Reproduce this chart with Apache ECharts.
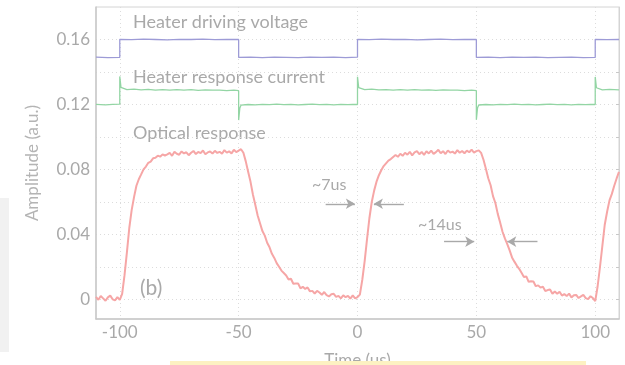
<!DOCTYPE html>
<html>
<head>
<meta charset="utf-8">
<script src="https://cdn.jsdelivr.net/npm/echarts@6/dist/echarts.min.js"></script>
<style>
  html, body { margin: 0; padding: 0; background: #fff; }
  #chart { width: 625px; height: 365px; }
</style>
</head>
<body>
<div id="chart"></div>
<script>
var myChart = echarts.init(document.getElementById('chart'));

// axis ticks
var xTicks = [-100, -50, 0, 50, 100];
var yLabelTicks = [0, 0.04, 0.08, 0.12, 0.16];
var yGridTicks = [0, 0.02, 0.04, 0.06, 0.08, 0.10, 0.12, 0.14, 0.16];

// heater driving voltage  [time us, amplitude]
var voltage = [
  [-110, 0.1491], [-105, 0.1489], [-100, 0.1490], [-100, 0.1601], [-95, 0.1599], [-90, 0.1602],
  [-85, 0.1600], [-80, 0.1598], [-75, 0.1601], [-70, 0.1600], [-65, 0.1602], [-60, 0.1599],
  [-55, 0.1601], [-50, 0.1600], [-50, 0.1490], [-45, 0.1492], [-40, 0.1489], [-35, 0.1491],
  [-30, 0.1490], [-25, 0.1488], [-20, 0.1491], [-15, 0.1490], [-10, 0.1492], [-5, 0.1489],
  [0, 0.1491], [0, 0.1601], [5, 0.1599], [10, 0.1602], [15, 0.1600], [20, 0.1601],
  [25, 0.1598], [30, 0.1600], [35, 0.1602], [40, 0.1599], [45, 0.1601], [50, 0.1600],
  [50, 0.1490], [55, 0.1491], [60, 0.1489], [65, 0.1492], [70, 0.1490], [75, 0.1491],
  [80, 0.1488], [85, 0.1490], [90, 0.1492], [95, 0.1489], [100, 0.1490], [100, 0.1601],
  [105, 0.1599], [110, 0.1600]
];

// heater response current  [time us, amplitude]
var current = [
  [-110, 0.1201], [-106, 0.1198], [-103, 0.1201], [-100, 0.1202], [-100, 0.1373], [-99.5, 0.1305],
  [-99, 0.1296], [-97, 0.1292], [-94, 0.1295], [-91, 0.1290], [-88, 0.1293], [-85, 0.1289],
  [-82, 0.1292], [-79, 0.1288], [-76, 0.1291], [-73, 0.1289], [-70, 0.1291], [-67, 0.1287],
  [-64, 0.1290], [-61, 0.1288], [-58, 0.1289], [-55, 0.1286], [-52, 0.1288], [-50, 0.1285],
  [-50, 0.1104], [-49.5, 0.1178], [-49, 0.1196], [-46, 0.1200], [-43, 0.1198], [-40, 0.1201],
  [-37, 0.1199], [-34, 0.1202], [-31, 0.1199], [-28, 0.1201], [-25, 0.1198], [-22, 0.1200],
  [-19, 0.1202], [-16, 0.1199], [-13, 0.1201], [-10, 0.1198], [-7, 0.1201], [-4, 0.1199],
  [-2, 0.1201], [0, 0.1200], [0, 0.1371], [0.5, 0.1304], [1, 0.1295], [3, 0.1291],
  [6, 0.1294], [9, 0.1290], [12, 0.1292], [15, 0.1289], [18, 0.1292], [21, 0.1288],
  [24, 0.1291], [27, 0.1289], [30, 0.1290], [33, 0.1287], [36, 0.1290], [39, 0.1288],
  [42, 0.1289], [45, 0.1286], [48, 0.1288], [50, 0.1285], [50, 0.1106], [50.5, 0.1180],
  [51, 0.1197], [54, 0.1200], [57, 0.1198], [60, 0.1201], [63, 0.1199], [66, 0.1202],
  [69, 0.1199], [72, 0.1201], [75, 0.1198], [78, 0.1200], [81, 0.1202], [84, 0.1199],
  [87, 0.1201], [90, 0.1198], [93, 0.1201], [96, 0.1199], [98, 0.1201], [100, 0.1200],
  [100, 0.1370], [100.5, 0.1303], [101, 0.1294], [103, 0.1290], [106, 0.1293], [110, 0.1290]
];

// optical response, sampled every 1 us from -110 us to 110 us
var opticalStart = -110;
var optical = [
  // -110 .. -100
  0.0016, -0.0002, 0.0021, 0.0007, -0.0008, 0.0013, 0.0024, 0.0001, -0.0005, 0.0015, -0.0003,
  // -99 .. -81
  0.0035, 0.0150, 0.0290, 0.0440, 0.0550, 0.0630, 0.0700, 0.0740, 0.0770, 0.0801,
  0.0818, 0.0841, 0.0849, 0.0869, 0.0872, 0.0885, 0.0879, 0.0893, 0.0886,
  // -80 .. -48
  0.0893, 0.0902, 0.0884, 0.0909, 0.0897, 0.0891, 0.0911, 0.0899, 0.0906, 0.0888,
  0.0903, 0.0914, 0.0895, 0.0908, 0.0901, 0.0917, 0.0894, 0.0905, 0.0911, 0.0898,
  0.0915, 0.0902, 0.0909, 0.0897, 0.0919, 0.0904, 0.0912, 0.0899, 0.0921, 0.0907,
  0.0916, 0.0925, 0.0903,
  // -47 .. -31
  0.0850, 0.0786, 0.0724, 0.0646, 0.0583, 0.0517, 0.0469, 0.0421, 0.0393, 0.0349,
  0.0321, 0.0281, 0.0256, 0.0224, 0.0201, 0.0178, 0.0163,
  // -30 .. 0
  0.0148, 0.0123, 0.0128, 0.0097, 0.0099, 0.0099, 0.0069, 0.0078, 0.0065, 0.0074,
  0.0050, 0.0053, 0.0037, 0.0053, 0.0043, 0.0029, 0.0046, 0.0027, 0.0019, 0.0032,
  0.0035, 0.0016, 0.0022, 0.0007, 0.0026, 0.0014, 0.0022, 0.0005, 0.0025, 0.0007,
  0.0015,
  // 1 .. 15
  0.0030, 0.0120, 0.0235, 0.0370, 0.0500, 0.0600, 0.0670, 0.0725, 0.0765, 0.0795,
  0.0821, 0.0838, 0.0855, 0.0864, 0.0877,
  // 16 .. 52
  0.0889, 0.0878, 0.0897, 0.0884, 0.0903, 0.0891, 0.0909, 0.0887, 0.0905, 0.0913,
  0.0894, 0.0908, 0.0890, 0.0912, 0.0899, 0.0916, 0.0896, 0.0907, 0.0921, 0.0900,
  0.0913, 0.0895, 0.0917, 0.0904, 0.0910, 0.0898, 0.0919, 0.0903, 0.0914, 0.0900,
  0.0916, 0.0906, 0.0922, 0.0904, 0.0913, 0.0918, 0.0902,
  // 53 .. 69
  0.0860, 0.0805, 0.0746, 0.0703, 0.0636, 0.0594, 0.0527, 0.0474, 0.0417, 0.0376,
  0.0341, 0.0302, 0.0259, 0.0233, 0.0209, 0.0189, 0.0164,
  // 70 .. 100
  0.0139, 0.0142, 0.0109, 0.0112, 0.0111, 0.0082, 0.0087, 0.0073, 0.0079, 0.0052,
  0.0058, 0.0061, 0.0035, 0.0049, 0.0036, 0.0048, 0.0024, 0.0033, 0.0021, 0.0036,
  0.0013, 0.0026, 0.0028, 0.0009, 0.0019, 0.0028, 0.0009, 0.0002, 0.0020, 0.0009,
  -0.0010,
  // 101 .. 110
  0.0080, 0.0200, 0.0330, 0.0460, 0.0540, 0.0610, 0.0650, 0.0700, 0.0745, 0.0785
];

// rise / fall time arrows  [[from], [to]] in data units
var arrows = [
  [[-13.4, 0.0589], [-1.1, 0.0589]],
  [[19.5, 0.0589], [6.9, 0.0589]],
  [[36.4, 0.0356], [49.1, 0.0356]],
  [[75.7, 0.0356], [63.0, 0.0356]]
];

var opticalData = optical.map(function (v, i) { return [opticalStart + i, v]; });

var txtColor = '#a9a9a9';
var fontName = 'Lato';

var option = {
    backgroundColor: '#fff',
    textStyle: { fontFamily: fontName },
    animation: false,
    grid: {
        left: 96, right: 6, top: 7, bottom: 46,
        outerBoundsMode: 'none',
        show: true, borderColor: '#d4d4d4', borderWidth: 1
    },
    xAxis: {
        type: 'value',
        min: -110, max: 110,
        name: 'Time (us)',
        nameLocation: 'middle',
        nameGap: 33,
        nameTextStyle: { color: txtColor, fontSize: 17 },
        axisLine: { show: true, onZero: false, lineStyle: { color: '#c8c8c8', width: 1.5 } },
        axisTick: { show: false, customValues: xTicks },
        axisLabel: { customValues: xTicks, color: txtColor, fontSize: 17, margin: 5 },
        splitLine: { show: true, lineStyle: { color: '#dcdcdc', type: [1, 3] } }
    },
    yAxis: [{
        type: 'value',
        min: -0.012, max: 0.18,
        name: 'Amplitude (a.u.)',
        nameLocation: 'middle',
        nameGap: 55,
        nameTextStyle: { color: '#b4b4b4', fontSize: 17 },
        axisLine: { show: true, onZero: false, lineStyle: { color: '#c8c8c8', width: 1.5 } },
        axisTick: { show: false, customValues: yGridTicks },
        axisLabel: {
            customValues: yLabelTicks, color: txtColor, fontSize: 17, margin: 6,
            formatter: function (v) { return v === 0 ? '0' : v.toFixed(2); }
        },
        splitLine: { show: true, lineStyle: { color: '#dcdcdc', type: [1, 3] } }
    }, {
        type: 'value',
        position: 'right',
        min: -0.012, max: 0.18,
        axisLine: { show: true, onZero: false, lineStyle: { color: '#d4d4d4' } },
        axisTick: { show: true, inside: true, length: 3, customValues: yGridTicks, lineStyle: { color: '#c8c8c8' } },
        axisLabel: { show: false },
        splitLine: { show: false }
    }],
    series: [
        {
            name: 'Heater driving voltage',
            type: 'line',
            data: voltage,
            showSymbol: false,
            lineStyle: { color: '#9d9bd6', width: 1.3 }
        },
        {
            name: 'Heater response current',
            type: 'line',
            data: current,
            showSymbol: false,
            lineStyle: { color: '#93d5a4', width: 1.3 }
        },
        {
            name: 'Optical response',
            type: 'line',
            data: opticalData,
            showSymbol: false,
            lineStyle: { color: '#f6a6a6', width: 2 },
            markLine: {
                silent: true,
                symbol: ['none', 'arrow'],
                symbolSize: [8, 9],
                label: { show: false },
                lineStyle: { color: '#a9a9a9', type: 'solid', width: 1.4 },
                data: arrows.map(function (a) {
                    return [{ coord: a[0] }, { coord: a[1] }];
                })
            }
        }
    ],
    graphic: [
        { type: 'rect', shape: { x: 0, y: 198, width: 9, height: 154 }, style: { fill: '#f1f1f1' }, silent: true },
        { type: 'rect', shape: { x: 170, y: 361, width: 416, height: 4 }, style: { fill: '#fdf1c2' }, z: 100, silent: true },
        { type: 'text', x: 133, y: 22, style: { text: 'Heater driving voltage', fill: txtColor, fontSize: 18, fontFamily: fontName, verticalAlign: 'middle' }, silent: true },
        { type: 'text', x: 133, y: 77, style: { text: 'Heater response current', fill: txtColor, fontSize: 18, fontFamily: fontName, verticalAlign: 'middle' }, silent: true },
        { type: 'text', x: 133, y: 133, style: { text: 'Optical response', fill: txtColor, fontSize: 18, fontFamily: fontName, verticalAlign: 'middle' }, silent: true },
        { type: 'text', x: 140, y: 288, style: { text: '(b)', fill: txtColor, fontSize: 21, fontFamily: fontName, verticalAlign: 'middle' }, silent: true },
        { type: 'text', x: 312, y: 185, style: { text: '~7us', fill: txtColor, fontSize: 16, fontFamily: fontName, verticalAlign: 'middle' }, silent: true },
        { type: 'text', x: 418, y: 225, style: { text: '~14us', fill: txtColor, fontSize: 16, fontFamily: fontName, verticalAlign: 'middle' }, silent: true }
    ]
};

myChart.setOption(option);
</script>
</body>
</html>
